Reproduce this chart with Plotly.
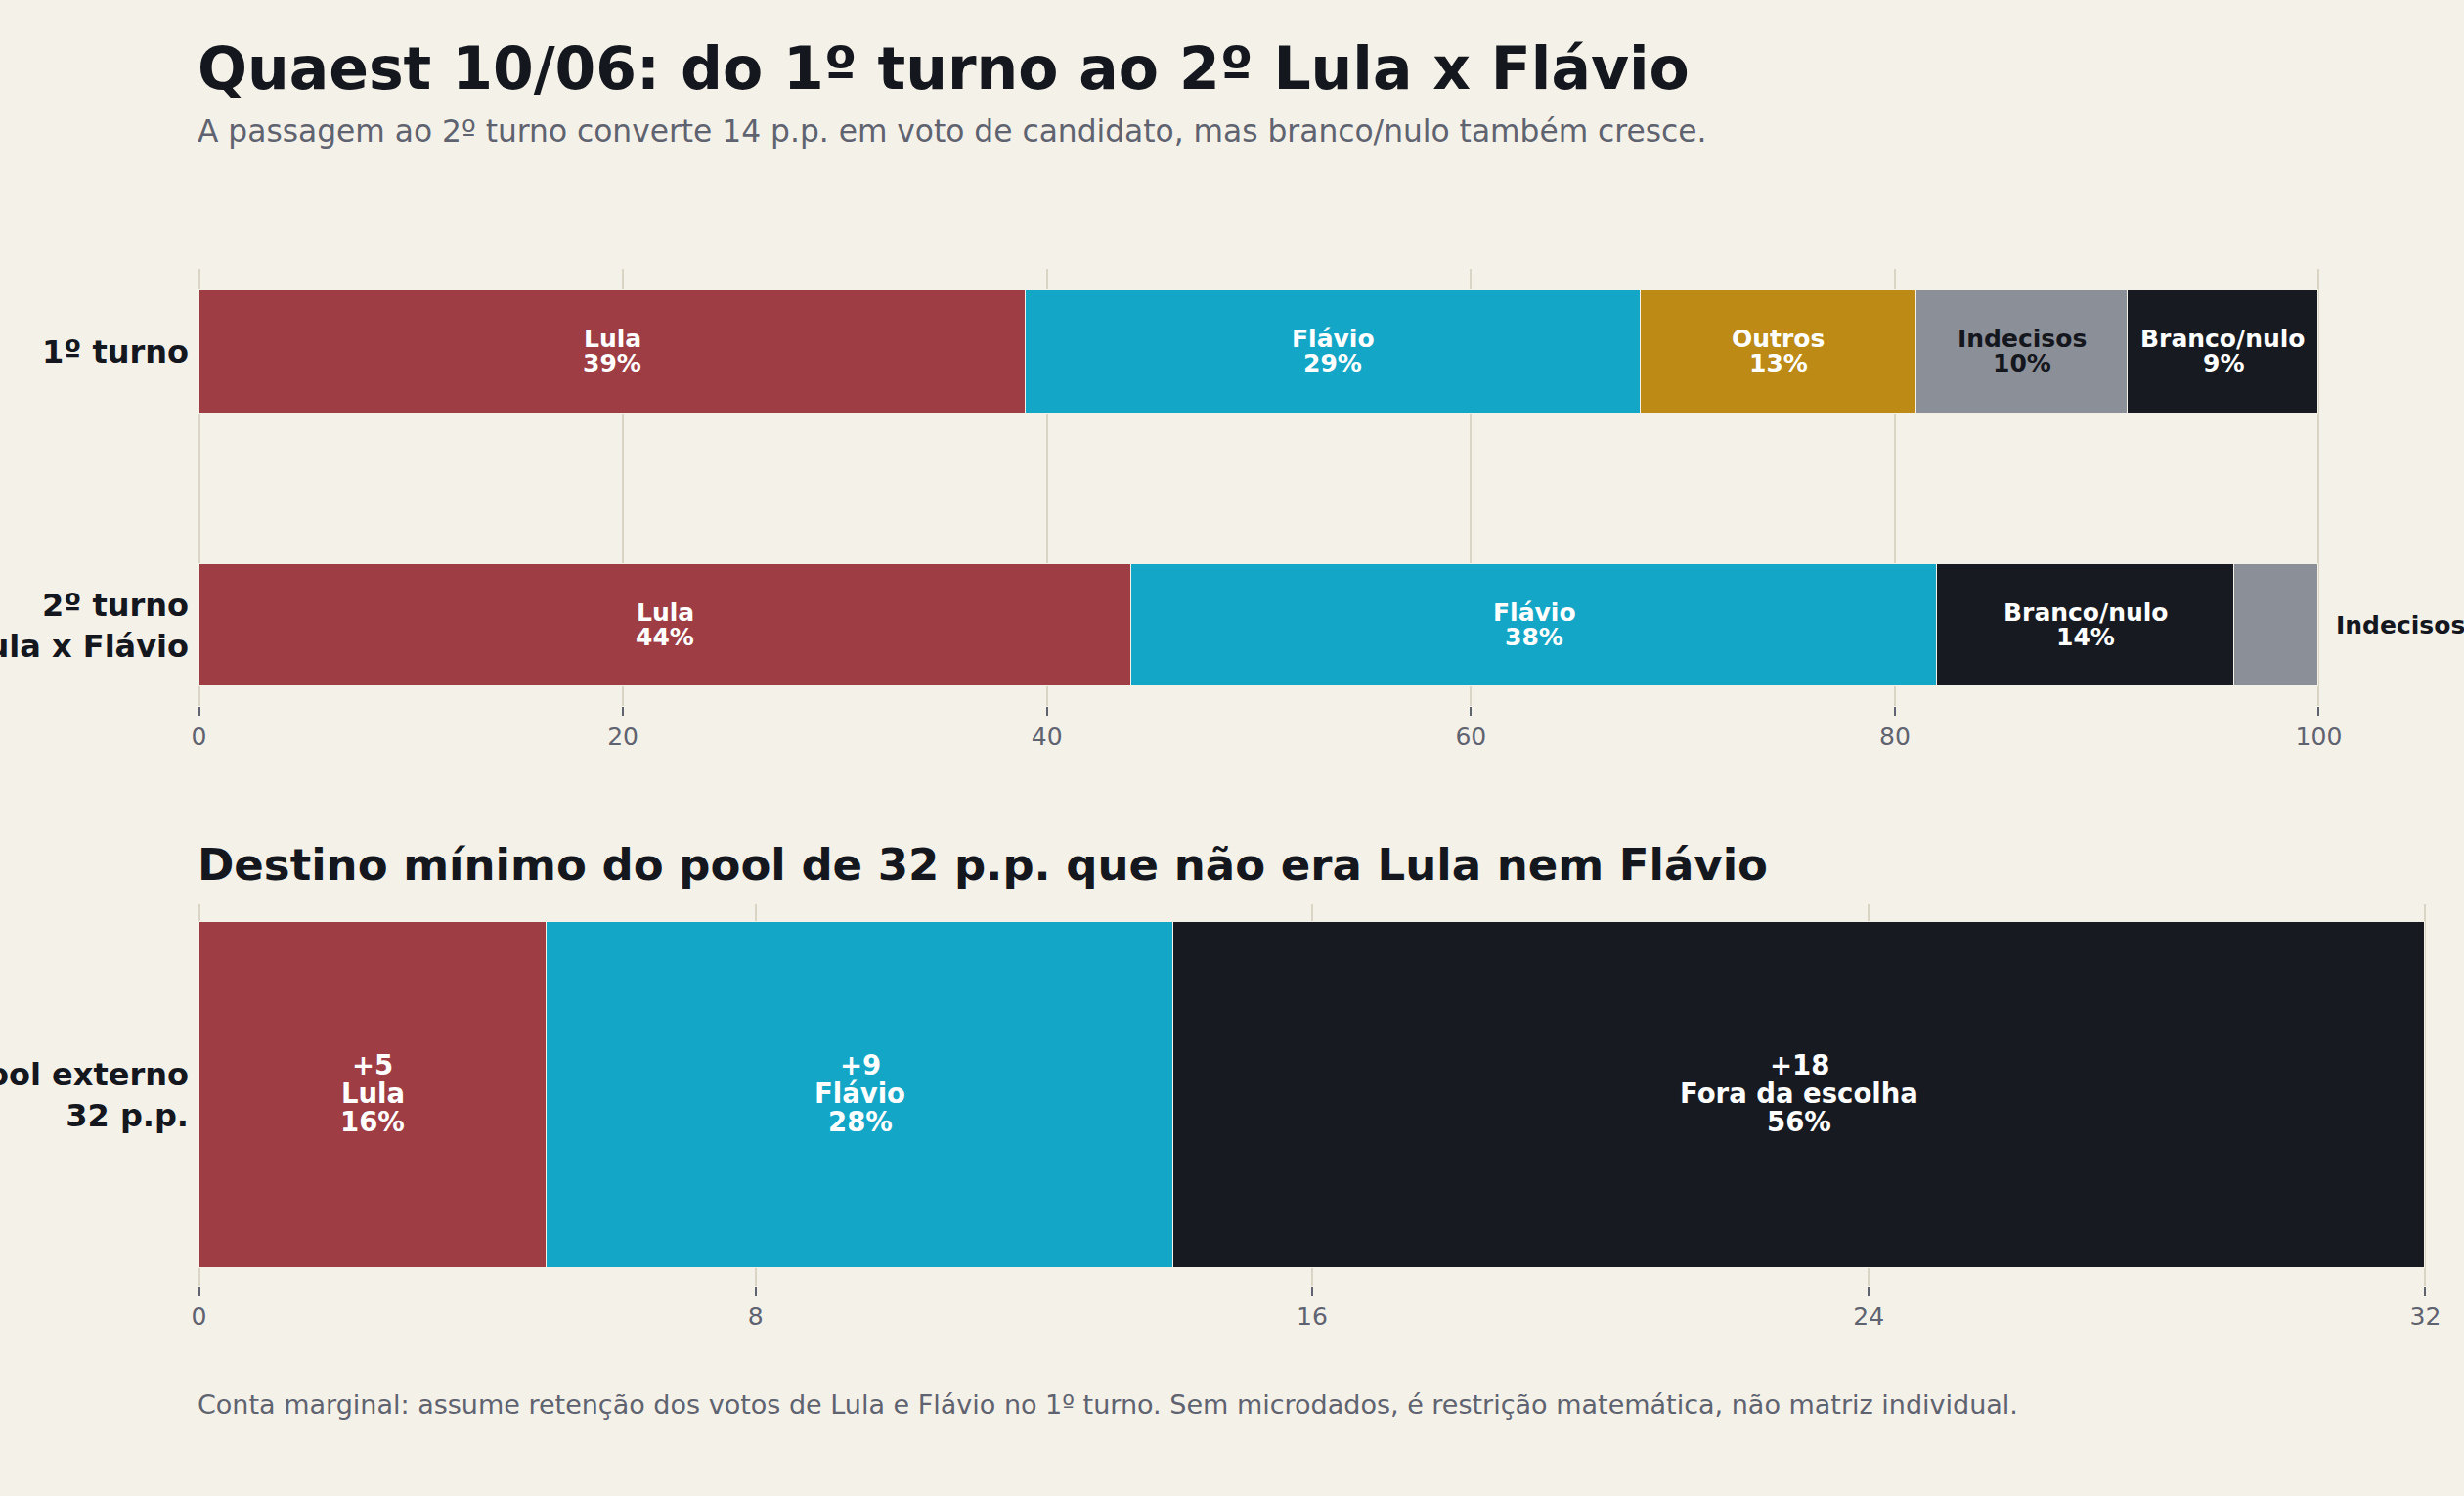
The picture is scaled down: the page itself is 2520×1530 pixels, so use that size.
import plotly.graph_objects as go

# ---------------- data ----------------
rows = ["1º turno", "2º turno<br>Lula x Flávio"]
turno1_labels = ["Lula", "Flávio", "Outros", "Indecisos", "Branco/nulo"]
turno1_values = [39, 29, 13, 10, 9]
turno2_labels = ["Lula", "Flávio", "Branco/nulo", "Indecisos"]
turno2_values = [44, 38, 14, 4]
pool_row = ["Pool externo<br>32 p.p."]
pool_labels = ["Lula", "Flávio", "Fora da escolha"]
pool_values = [5, 9, 18]
pool_shares = [16, 28, 56]
top_ticks = [0, 20, 40, 60, 80, 100]
bottom_ticks = [0, 8, 16, 24, 32]

# ---------------- style ----------------
BG = "#F4F1E9"
GRID = "#D9D4C3"
INK = "#15171E"
MUTED = "#5F6370"
FONT = "DejaVu Sans"
colors = {
    "Lula": "#9E3D44",
    "Flávio": "#14A6C6",
    "Outros": "#BC8A15",
    "Indecisos": "#8B8F97",
    "Branco/nulo": "#171A21",
    "Fora da escolha": "#171A21",
}
text_colors = {k: "white" for k in colors}
text_colors["Indecisos"] = INK

W, H = 2520, 1530

def px_x(p):
    return p / W

def px_y(p):
    return 1 - p / H

fig = go.Figure()

def add_lines(lines, x, y, xref, yref, size, color, spacing, offset=0):
    n = len(lines)
    for i, line in enumerate(lines):
        fig.add_annotation(
            x=x, y=y, xref=xref, yref=yref, xanchor="center", yanchor="middle",
            yshift=spacing * ((n - 1) / 2 - i) + offset,
            text=f"<b>{line}</b>", showarrow=False,
            font=dict(family=FONT, size=size, color=color),
        )

# top chart
for row, labels, values in [(rows[0], turno1_labels, turno1_values),
                            (rows[1], turno2_labels, turno2_values)]:
    start = 0
    for lab, v in zip(labels, values):
        fig.add_trace(go.Bar(
            x=[v], y=[row], orientation="h", width=0.45,
            marker=dict(color=colors[lab], line=dict(color=BG, width=1.5)),
            xaxis="x", yaxis="y", showlegend=False, hoverinfo="skip",
        ))
        outside = (row == rows[1] and lab == "Indecisos")
        if outside:
            fig.add_annotation(
                x=100, y=row, xref="x", yref="y", xanchor="left", yanchor="middle",
                xshift=16, text=f"<b>{lab} {v}%</b>", showarrow=False,
                font=dict(family=FONT, size=25, color=INK),
            )
        else:
            add_lines([lab, f"{v}%"], start + v / 2, row, "x", "y",
                      25, text_colors[lab], 25, 1)
        start += v

# bottom chart
start = 0
for lab, v, s in zip(pool_labels, pool_values, pool_shares):
    fig.add_trace(go.Bar(
        x=[v], y=pool_row, orientation="h", width=0.8,
        marker=dict(color=colors[lab], line=dict(color=BG, width=1.5)),
        xaxis="x2", yaxis="y2", showlegend=False, hoverinfo="skip",
    ))
    add_lines([f"+{v}", lab, f"{s}%"], start + v / 2, pool_row[0], "x2", "y2",
              27.5, text_colors[lab], 29, 2)
    start += v

axis_common = dict(
    showgrid=True, gridcolor=GRID, gridwidth=1.5, zeroline=False, showline=False,
    ticks="outside", ticklen=9, tickwidth=2, tickcolor=MUTED, automargin=False,
    tickfont=dict(family=FONT, size=25, color=MUTED), fixedrange=True,
)
yaxis_common = dict(
    showgrid=False, zeroline=False, showline=False, ticks="",
    tickfont=dict(family=FONT, size=32, color=INK), automargin=False,
    ticklabelstandoff=8, fixedrange=True,
)

fig.update_layout(
    width=W, height=H,
    margin=dict(l=0, r=0, t=0, b=0, autoexpand=False),
    paper_bgcolor=BG, plot_bgcolor=BG,
    barmode="stack", bargap=0,
    font=dict(family=FONT, color=INK),
    xaxis=dict(domain=[px_x(202), px_x(2373)], range=[-0.07, 100.07], tickvals=top_ticks,
               anchor="y", **axis_common),
    yaxis=dict(domain=[px_y(722), px_y(275)], range=[1.295, -0.304],
               categoryorder="array", categoryarray=rows,
               tickvals=rows, ticktext=[f"<b>{r}</b>" for r in rows],
               anchor="x", **yaxis_common),
    xaxis2=dict(domain=[px_x(202), px_x(2482)], range=[-0.022, 32.022], tickvals=bottom_ticks,
                anchor="y2", **axis_common),
    yaxis2=dict(domain=[px_y(1315), px_y(925)], range=[0.4407, -0.4407],
                tickvals=pool_row, ticktext=[f"<b>{r}</b>" for r in pool_row],
                anchor="x2", **yaxis_common),
)

texts = [
    ("<b>Quaest 10/06: do 1º turno ao 2º Lula x Flávio</b>", 70, 60, INK),
    ("A passagem ao 2º turno converte 14 p.p. em voto de candidato, mas branco/nulo também cresce.", 134, 31.3, MUTED),
    ("<b>Destino mínimo do pool de 32 p.p. que não era Lula nem Flávio</b>", 884.5, 45, INK),
    ("Conta marginal: assume retenção dos votos de Lula e Flávio no 1º turno. Sem microdados, é restrição matemática, não matriz individual.", 1436.5, 27, MUTED),
]
for t, yc, size, col in texts:
    fig.add_annotation(
        x=px_x(200), y=px_y(yc), xref="paper", yref="paper",
        xanchor="left", yanchor="middle", text=t, showarrow=False,
        font=dict(family=FONT, size=size, color=col),
    )

fig.write_html("out.html")
